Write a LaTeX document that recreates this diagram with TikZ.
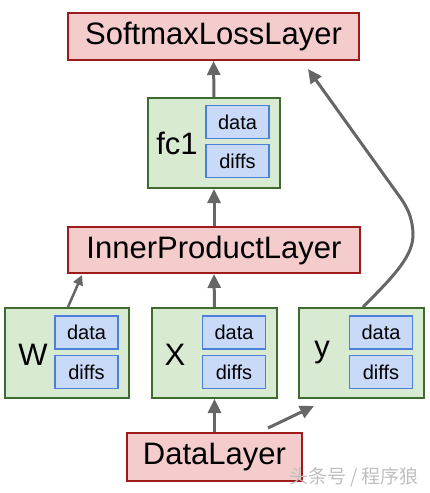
\documentclass[tikz,border=0pt]{standalone}
\usepackage{fontspec}
\setmainfont{Liberation Sans}
\newfontfamily\cjk{Noto Sans CJK SC}
\usetikzlibrary{arrows.meta,calc}
\definecolor{pinkfill}{HTML}{F4CCCC}
\definecolor{redline}{HTML}{9E1B1B}
\definecolor{greenfill}{HTML}{D9EAD3}
\definecolor{greenline}{HTML}{3E6B2E}
\definecolor{bluefill}{HTML}{C9DAF8}
\definecolor{blueline}{HTML}{4A80D8}
\definecolor{arrowgray}{HTML}{666666}
\tikzset{
  layerbox/.style={draw=redline,fill=pinkfill,line width=2pt,inner sep=0pt,
    font=\fontsize{31}{31}\selectfont},
  blobbox/.style={draw=greenline,fill=greenfill,line width=2pt,inner sep=0pt,
    minimum height=90pt},
  subbox/.style={draw=blueline,fill=bluefill,line width=1.5pt,inner sep=0pt,
    minimum width=63pt,minimum height=33pt,font=\fontsize{20}{20}\selectfont},
  bloblabel/.style={inner sep=0pt,font=\fontsize{31}{31}\selectfont},
  conn/.style={draw=arrowgray,line width=3pt,
    -{Triangle[width=13pt,length=14pt]}},
}
\begin{document}
\begin{tikzpicture}[x=1pt,y=-1pt]
\useasboundingbox (0,0) rectangle (430,493);
% layers
\node[layerbox,minimum width=291pt,minimum height=47pt] (sm) at (213.5,36.5) {SoftmaxLossLayer};
\node[layerbox,minimum width=292pt,minimum height=46pt] (ip) at (214,250) {InnerProductLayer};
\node[layerbox,minimum width=175pt,minimum height=48pt] (dl) at (214.5,457) {DataLayer};
% fc1
\node[blobbox,minimum width=132pt] (fc) at (214,143) {};
\node[bloblabel] (fcl) at (177,143) {fc1};
\node[subbox] (fcd) at (237.5,122) {data};
\node[subbox] (fcf) at (237.5,161) {diffs};
% W
\node[blobbox,minimum width=124pt] (w) at (67,353) {};
\node[bloblabel] (wl) at (33,355) {W};
\node[subbox] (wd) at (86.5,332.5) {data};
\node[subbox] (wf) at (86.5,372) {diffs};
% X
\node[blobbox,minimum width=125pt] (x) at (214.5,353) {};
\node[bloblabel] (xl) at (175,355) {X};
\node[subbox] (xd) at (234,332.5) {data};
\node[subbox] (xf) at (234,372) {diffs};
% y
\node[blobbox,minimum width=125pt] (yb) at (361.5,353) {};
\node[bloblabel] (yl) at (322,353) {y};
\node[subbox] (yd) at (381,332.5) {data};
\node[subbox] (yf) at (381,372) {diffs};
% connectors
\draw[conn] (fc.north) -- (sm.south);
\draw[conn] (ip.north) -- (fc.south);
\draw[conn] (x.north) -- (ip.south);
\draw[conn,-{Triangle[width=10pt,length=10pt]},line width=2.5pt] ($(w.north)+(1,0)$) -- ($(ip.south west)+(15,1)$);
\draw[conn] (dl.north) -- (x.south);
\draw[conn] ($(dl.north east)+(-35,-4)$) -- ($(yb.south west)+(16,7)$);
\draw[conn] ($(yb.north)+(1.5,0)$) .. controls (395,275) and (414,255) .. (413,233)
  .. controls (412,215) and (406,205) .. (397,193)
  -- ($(sm.south east)+(-52,8)$);
% watermark
\node[inner sep=0pt,text=black!25,font=\cjk\fontsize{19}{19}\selectfont] (wm) at (354,477) {头条号 / 程序狼};
\end{tikzpicture}
\end{document}
